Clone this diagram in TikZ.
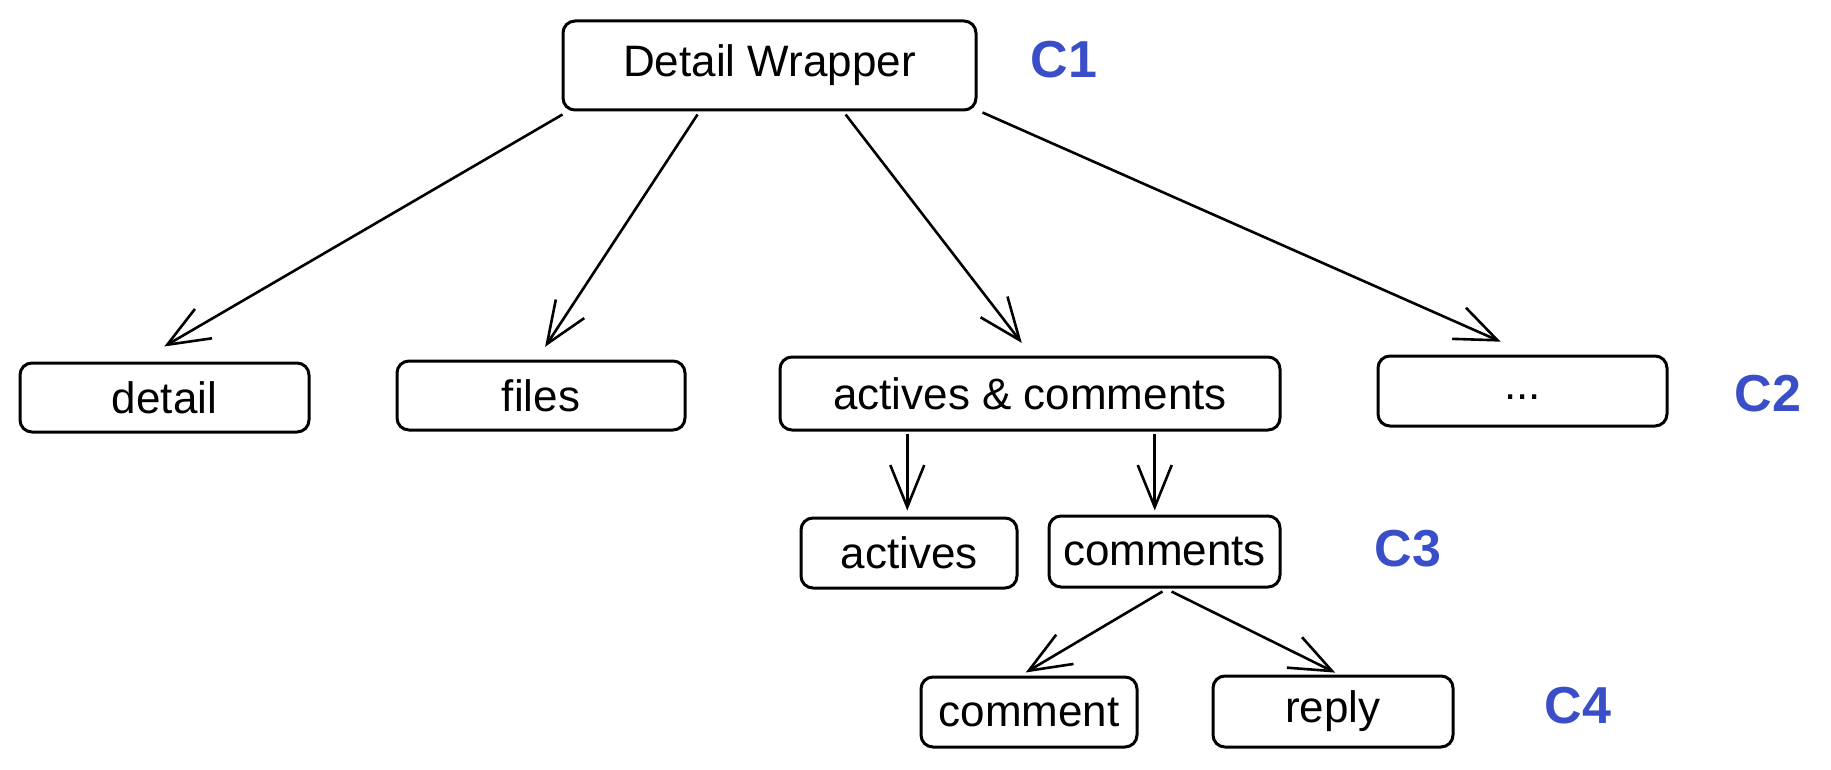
\documentclass[tikz,border=0pt]{standalone}
\usepackage{fontspec}
\setmainfont{Liberation Sans}
\usetikzlibrary{arrows.meta,calc}
\definecolor{lblblue}{RGB}{58,78,200}
\begin{document}
\begin{tikzpicture}[x=0.5pt,y=-0.5pt,
  box/.style={draw=black,line width=1.5pt,rounded corners=6pt,inner sep=0pt,font=\fontsize{22}{26}\selectfont},
  lbl/.style={text=lblblue,font=\fontsize{26}{30}\selectfont\bfseries,inner sep=0pt},
  arr/.style={line width=1.3pt,-{Straight Barb[length=21pt,width=17pt,line width=1.3pt]},shorten >=1pt}]
\useasboundingbox (0,0) rectangle (1831,770);
\node[box,minimum width=206.5pt,minimum height=44.5pt] (dw) at (769.5,65.5) {Detail Wrapper};
\node[lbl] (c1) at (1064,60) {C1};
\node[box,minimum width=144.5pt,minimum height=34.5pt] (detail) at (164.5,397.5) {detail};
\node[box,minimum width=144pt,minimum height=34.5pt] (files) at (541,395.5) {files};
\node[box,minimum width=250pt,minimum height=36.5pt] (ac) at (1030,393.5) {actives \& comments};
\node[box,minimum width=144.5pt,minimum height=35pt,text depth=0pt,text height=0pt] (dots) at (1522.5,391) {\raisebox{-4pt}{...}};
\node[lbl] (c2) at (1768,394) {C2};
\node[box,minimum width=108pt,minimum height=35pt] (actives) at (909,553) {actives};
\node[box,minimum width=115.5pt,minimum height=35.5pt] (comments) at (1164.5,551.5) {comments};
\node[lbl] (c3) at (1408,549) {C3};
\node[box,minimum width=108pt,minimum height=35pt] (comment) at (1029,712) {comment};
\node[box,minimum width=120pt,minimum height=35.5pt] (reply) at (1333,711.5) {reply};
\node[lbl] (c4) at (1578,706) {C4};
\coordinate (s1) at ($(dw.south west)+(1,3)$);
\coordinate (s2) at ($(dw.south west)!0.327!(dw.south east)+(0,3)$);
\coordinate (s3) at ($(dw.south west)!0.683!(dw.south east)+(0,3)$);
\coordinate (s4) at ($(dw.south east)+(5,1)$);
\coordinate (e1) at ($(detail.north)+(-2,-14)$);
\coordinate (e2) at ($(files.north)+(3,-11)$);
\coordinate (e3) at ($(ac.north)+(-7,-11)$);
\coordinate (e4) at ($(dots.north)+(-20,-12)$);
\draw[arr] (s1) -- (e1);
\draw[arr] (s2) -- (e2);
\draw[arr] (s3) -- (e3);
\draw[arr] (s4) -- (e4);
\coordinate (s5) at ($(ac.south west)!0.256!(ac.south east)+(0,2)$);
\coordinate (s6) at ($(ac.south west)!0.748!(ac.south east)+(0,2)$);
\draw[arr] (s5) -- ($(s5 |- actives.north)+(0,-4)$);
\draw[arr] (s6) -- ($(s6 |- comments.north)+(0,-2)$);
\coordinate (s7) at ($(comments.south)+(-2,3)$);
\coordinate (s8) at ($(comments.south)+(7,3)$);
\draw[arr] (s7) -- ($(comment.north)+(-5,-2)$);
\draw[arr] (s8) -- ($(reply.north)+(4,-1)$);
\end{tikzpicture}
\end{document}
